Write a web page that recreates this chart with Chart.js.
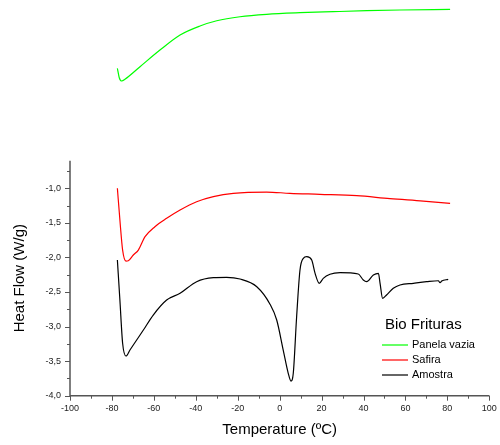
<!DOCTYPE html>
<html lang="pt">
<head>
<meta charset="UTF-8" />
<title>Bio Frituras</title>
<script src="https://cdn.jsdelivr.net/npm/chart.js"></script>
<style>
  html, body { margin: 0; padding: 0; background: #fff; }
</style>
</head>
<body>
<canvas id="chart" width="500" height="445"></canvas>
<script>
// values (x = temperature in ºC, y = heat flow in W/g)
const panelaX = [-77.4, -76.5, -75.3, -73.8, -66.6, -57.1, -47.5, -38, -30, -18.9, -6.2, 9.7, 25.5, 41.5, 57.4, 81.3];
const panelaY = [0.736, 0.6, 0.552, 0.577, 0.759, 1.0, 1.218, 1.348, 1.424, 1.482, 1.517, 1.54, 1.555, 1.569, 1.579, 1.589];

const safiraX = [-77.4, -76.2, -74.9, -73.3, -72.2, -69.8, -67.4, -64.2, -59.5, -53.9, -47.5, -39.6, -31.6, -22.1, -6.2, 4.9, 19.2, 36.8, 52.6, 68.5, 81.3];
const safiraY = [-1.0, -1.459, -1.893, -2.052, -2.047, -1.965, -1.893, -1.70, -1.555, -1.434, -1.314, -1.194, -1.121, -1.073, -1.054, -1.073, -1.087, -1.107, -1.150, -1.184, -1.217];

const amostraX = [-77.4, -76.2, -74.9, -73.3, -71.4, -68.2, -65.0, -60.3, -53.9, -47.5, -39.6, -31.6, -25.3, -18.9, -10.9, -4.6, -1.4, 1.7, 4.1, 5.4, 6.5, 8.1, 9.7, 11.3, 12.9, 15.3, 16.9, 18.9, 20.8, 24.0, 28.8, 37.5, 39.9, 41.5, 44.7, 47.1, 47.9, 49.1, 51.0, 54.2, 57.4, 63.8, 70.1, 75.7, 76.5, 77.3, 80.4];
const amostraY = [-2.037, -2.616, -3.242, -3.426, -3.339, -3.194, -3.05, -2.833, -2.616, -2.519, -2.351, -2.293, -2.288, -2.312, -2.423, -2.676, -2.905, -3.339, -3.676, -3.788, -3.676, -2.857, -2.182, -2.013, -1.989, -2.037, -2.23, -2.374, -2.302, -2.244, -2.221, -2.240, -2.327, -2.351, -2.254, -2.23, -2.374, -2.591, -2.543, -2.447, -2.399, -2.374, -2.351, -2.337, -2.366, -2.342, -2.317];

const seriesNames = ["Panela vazia", "Safira", "Amostra"];
const seriesColors = ["#00ff00", "#ff0000", "#000000"];
const legendTitle = "Bio Frituras";
const xTitle = "Temperature (ºC)";
const yTitle = "Heat Flow (W/g)";

// axis ranges as drawn (the y axis line stops at -0.6, the empty pan curve sits above it)
const xMin = -100, xMax = 100;
const yAxisMin = -4.0, yAxisTop = -0.6, yMax = 1.724;

const FONT = "'Liberation Sans', Arial, sans-serif";

function pts(xs, ys) {
    return xs.map((v, i) => ({ x: v, y: ys[i] }));
}

function fmt(v) {
    return v.toFixed(1).replace(".", ",");
}

const axesPlugin = {
    id: "originAxes",
    afterDraw(chart) {
        const { ctx, chartArea } = chart;
        const x = chart.scales.x, y = chart.scales.y;
        const left = chartArea.left;
        const bottom = y.getPixelForValue(yAxisMin);
        ctx.save();
        ctx.strokeStyle = "#555";
        ctx.lineWidth = 1.5;
        ctx.beginPath();
        ctx.moveTo(left, y.getPixelForValue(yAxisTop));
        ctx.lineTo(left, bottom);
        ctx.lineTo(x.getPixelForValue(xMax), bottom);
        ctx.stroke();

        ctx.lineWidth = 1;
        ctx.beginPath();
        for (let v = yAxisMin; v <= yAxisTop - 0.1; v += 0.25) {
            const p = Math.round(y.getPixelForValue(v)) + 0.5;
            const major = Math.abs(v * 2 - Math.round(v * 2)) < 1e-6;
            ctx.moveTo(left, p);
            ctx.lineTo(left - (major ? 5 : 3), p);
        }
        for (let v = xMin; v <= xMax; v += 10) {
            const p = Math.round(x.getPixelForValue(v)) + 0.5;
            const major = v % 20 === 0;
            ctx.moveTo(p, bottom);
            ctx.lineTo(p, bottom + (major ? 5 : 3));
        }
        ctx.stroke();

        // axis titles
        ctx.fillStyle = "#000";
        ctx.font = "15px " + FONT;
        ctx.textAlign = "center";
        ctx.textBaseline = "middle";
        ctx.fillText(xTitle, (x.getPixelForValue(xMin) + x.getPixelForValue(xMax)) / 2, 430);
        ctx.save();
        ctx.translate(20, (bottom + y.getPixelForValue(yAxisTop)) / 2);
        ctx.rotate(-Math.PI / 2);
        ctx.fillText(yTitle, 0, 0);
        ctx.restore();

        // legend
        ctx.textAlign = "left";
        ctx.font = "15px " + FONT;
        ctx.fillText(legendTitle, 385, 325);
        ctx.font = "11px " + FONT;
        seriesNames.forEach((name, i) => {
            const ly = 345 + i * 15;
            ctx.strokeStyle = seriesColors[i];
            ctx.lineWidth = 1.2;
            ctx.beginPath();
            ctx.moveTo(382, ly);
            ctx.lineTo(408, ly);
            ctx.stroke();
            ctx.fillStyle = "#000";
            ctx.fillText(name, 412, ly);
        });
        ctx.restore();
    }
};

new Chart(document.getElementById("chart"), {
    type: "scatter",
    data: {
        datasets: [
            { label: seriesNames[0], data: pts(panelaX, panelaY), borderColor: seriesColors[0] },
            { label: seriesNames[1], data: pts(safiraX, safiraY), borderColor: seriesColors[1] },
            { label: seriesNames[2], data: pts(amostraX, amostraY), borderColor: seriesColors[2] }
        ]
    },
    options: {
        responsive: false,
        animation: false,
        layout: { padding: { left: 0, right: 10.7, top: 0, bottom: 0 } },
        elements: {
            point: { radius: 0, hoverRadius: 0 },
            line: { borderWidth: 1.2, tension: 0.4, cubicInterpolationMode: "monotone", fill: false }
        },
        datasets: { scatter: { showLine: true } },
        plugins: { legend: { display: false }, tooltip: { enabled: false } },
        scales: {
            x: {
                type: "linear",
                min: xMin,
                max: xMax,
                afterFit: (s) => { s.height = 49.3; s.paddingLeft = 0; s.paddingRight = 0; },
                border: { display: false },
                grid: { display: false, drawTicks: false, tickLength: 0 },
                ticks: {
                    stepSize: 10,
                    autoSkip: false,
                    maxRotation: 0,
                    padding: 7,
                    color: "#222",
                    font: { family: FONT, size: 9 },
                    callback: (v) => (Math.round(v) % 20 === 0 ? String(Math.round(v)) : "")
                }
            },
            y: {
                type: "linear",
                min: yAxisMin,
                max: yMax,
                afterFit: (s) => { s.width = 70; s.paddingTop = 0; s.paddingBottom = 0; },
                border: { display: false },
                grid: { display: false, drawTicks: false, tickLength: 0 },
                ticks: {
                    stepSize: 0.25,
                    autoSkip: false,
                    padding: 9,
                    color: "#222",
                    font: { family: FONT, size: 9 },
                    callback: (v) => {
                        const r = Math.round(v * 100) / 100;
                        return (Math.abs(r * 2 - Math.round(r * 2)) < 1e-6 && r <= -1) ? fmt(r) : "";
                    }
                }
            }
        }
    },
    plugins: [axesPlugin]
});
</script>
</body>
</html>
